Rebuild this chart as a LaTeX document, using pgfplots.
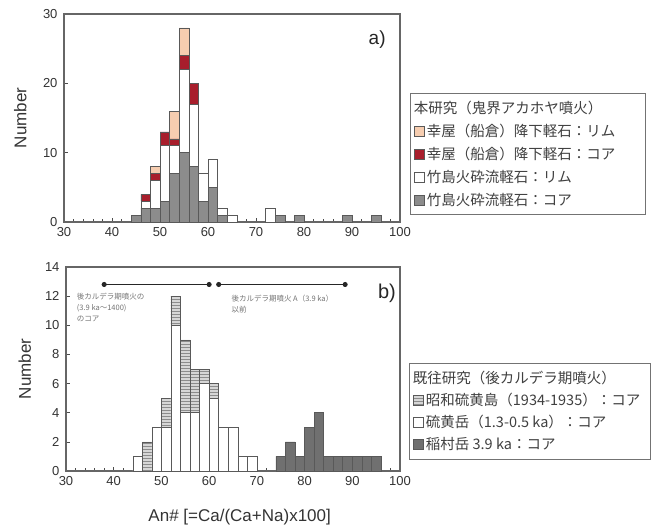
\documentclass[border=0pt]{standalone}
\usepackage{pgfplots}
\usepackage{pgfplotstable}
\pgfplotsset{compat=1.18}
\usetikzlibrary{patterns}
\usepackage{fontspec}
\setmainfont{Liberation Sans}
\newfontfamily\jp{Noto Sans CJK JP}

\definecolor{rimpeach}{HTML}{F6CDB0}
\definecolor{corered}{HTML}{A81E2C}
\definecolor{coregray}{HTML}{8C8C8C}
\definecolor{inadark}{HTML}{707070}
\definecolor{showagray}{HTML}{D6D6D6}

% a) this study: core (gray), rim (white) of Takeshima pumice; core (red), rim (peach) of Koya pumice
\pgfplotstableread{
x  gc wr rc rr
31 0  0  0  0
33 0  0  0  0
35 0  0  0  0
37 0  0  0  0
39 0  0  0  0
41 0  0  0  0
43 0  0  0  0
45 1  0  0  0
47 2  1  1  0
49 2  4  1  1
51 3  8  2  0
53 7  4  1  4
55 10 12 2  4
57 8  9  3  0
59 3  4  0  0
61 5  4  0  0
63 1  1  0  0
65 0  1  0  0
67 0  0  0  0
69 0  0  0  0
71 0  0  0  0
73 0  2  0  0
75 1  0  0  0
77 0  0  0  0
79 1  0  0  0
81 0  0  0  0
83 0  0  0  0
85 0  0  0  0
87 0  0  0  0
89 1  0  0  0
91 0  0  0  0
93 0  0  0  0
95 1  0  0  0
97 0  0  0  0
}\tabA

% b) previous studies: Iodake (white), Showa-Iwojima (hatched), Inamuradake (dark)
\pgfplotstableread{
x  wh lt dk
31 0  0  0
33 0  0  0
35 0  0  0
37 0  0  0
39 0  0  0
41 0  0  0
43 0  0  0
45 1  0  0
47 0  2  0
49 3  0  0
51 3  2  0
53 10 2  0
55 4  5  0
57 4  3  0
59 6  1  0
61 5  1  0
63 3  0  0
65 3  0  0
67 1  0  0
69 1  0  0
71 0  0  0
73 0  0  0
75 0  0  1
77 0  0  2
79 0  0  1
81 0  0  3
83 0  0  4
85 0  0  1
87 0  0  1
89 0  0  1
91 0  0  1
93 0  0  1
95 0  0  1
97 0  0  0
}\tabB

\pgfplotsset{
  histo/.style={
    scale only axis,
    anchor=south west,
    xmin=30, xmax=100,
    xtick={30,40,...,100},
    minor x tick num=4,
    tick align=inside,
    tick pos=left,
    major tick length=4pt,
    minor tick length=3pt,
    axis line style={black!60, line width=1.2pt},
    every tick/.style={black!70, line width=0.6pt},
    ybar stacked,
    bar width=2,
    /pgf/number format/assume math mode=true,
    tick label style={font=\fontsize{13}{13}\selectfont, text=black!80},
    xticklabel style={yshift=-2pt},
    yticklabel style={xshift=-3pt},
    legend cell align=left,
    legend image code/.code={\draw[#1, draw=black!65, line width=0.5pt] (0pt,-5pt) rectangle (10pt,5pt);},
  },
  barline/.style={draw=black!65, line width=0.5pt},
}

\begin{document}
\begin{tikzpicture}
\useasboundingbox (0pt,0pt) rectangle (656pt,-528pt);

% ---------- a) ----------
\begin{axis}[histo,
  at={(64pt,-222pt)}, width=336pt, height=208pt,
  ymin=0, ymax=30, ytick={0,10,20,30},
  ylabel={Number},
  every axis y label/.style={at={(axis description cs:-0.13,0.5)}, rotate=90, anchor=center,
    font=\fontsize{17}{17}\selectfont, text=black!80},
  legend style={at={(1.03,0.62)}, anchor=north west, draw=black!55, line width=0.8pt,
    font=\jp\fontsize{14.5}{14.5}\selectfont, text=black!75, row sep=5pt,
    inner xsep=4pt, inner ysep=6pt},
]
\addplot[barline, fill=coregray, forget plot] table[x=x, y=gc] {\tabA};
\addplot[barline, fill=white, forget plot] table[x=x, y=wr] {\tabA};
\addplot[barline, fill=corered, forget plot] table[x=x, y=rc] {\tabA};
\addplot[barline, fill=rimpeach, forget plot] table[x=x, y=rr] {\tabA};

\addlegendimage{empty legend}
\addlegendentry{\hspace*{-13pt}本研究（鬼界アカホヤ噴火）\rule[-4pt]{0pt}{4pt}}
\addlegendimage{fill=rimpeach}
\addlegendentry{\makebox[212pt][l]{幸屋（船倉）降下軽石：リム}}
\addlegendimage{fill=corered}
\addlegendentry{幸屋（船倉）降下軽石：コア}
\addlegendimage{fill=white}
\addlegendentry{竹島火砕流軽石：リム}
\addlegendimage{fill=coregray}
\addlegendentry{竹島火砕流軽石：コア}

\node[font=\fontsize{19}{19}\selectfont, text=black!85] at (rel axis cs:0.932,0.875) {a)};
\end{axis}

% ---------- b) ----------
\begin{axis}[histo,
  at={(66pt,-471pt)}, width=334pt, height=204pt,
  ymin=0, ymax=14, ytick={0,2,...,14},
  ylabel={Number},
  xlabel={An\# [=Ca/(Ca+Na)x100]},
  every axis y label/.style={at={(axis description cs:-0.123,0.5)}, rotate=90, anchor=center,
    font=\fontsize{17}{17}\selectfont, text=black!80},
  every axis x label/.style={at={(axis description cs:0.52,-0.225)}, anchor=center,
    font=\fontsize{17}{17}\selectfont, text=black!80},
  legend style={at={(1.027,0.529)}, anchor=north west, draw=black!55, line width=0.8pt,
    font=\jp\fontsize{14.5}{14.5}\selectfont, text=black!75, row sep=4pt,
    inner xsep=4pt, inner ysep=6pt},
]
\addplot[barline, fill=white, forget plot] table[x=x, y=wh] {\tabB};
\addplot[barline, fill=showagray, postaction={pattern=horizontal lines, pattern color=black!45}, forget plot] table[x=x, y=lt] {\tabB};
\addplot[barline, fill=inadark, forget plot] table[x=x, y=dk] {\tabB};

\addlegendimage{empty legend}
\addlegendentry{\hspace*{-13pt}既往研究（後カルデラ期噴火）\rule[-9pt]{0pt}{9pt}}
\addlegendimage{fill=showagray, postaction={pattern=horizontal lines, pattern color=black!45}}
\addlegendentry{\makebox[218pt][l]{昭和硫黄島（1934-1935）：コア}}
\addlegendimage{fill=white}
\addlegendentry{硫黄岳（1.3-0.5 ka）：コア}
\addlegendimage{fill=inadark}
\addlegendentry{稲村岳 3.9 ka：コア}

\node[font=\fontsize{20}{20}\selectfont, text=black!85] at (rel axis cs:0.961,0.873) {b)};
\end{axis}

% eruption-period ranges drawn over panel b)
\begin{axis}[
  at={(66pt,-471pt)}, anchor=south west, scale only axis, width=334pt, height=204pt,
  xmin=30, xmax=100, ymin=0, ymax=14, hide axis,
]
\addplot[black!85, line width=1pt, mark=*, mark size=2pt] coordinates {(38,12.8) (60,12.8)};
\addplot[black!85, line width=1pt, mark=*, mark size=2pt] coordinates {(62,12.8) (88.5,12.8)};
\node[anchor=north west, align=left, font=\jp\fontsize{7.5}{11}\selectfont, text=black!55]
  at (rel axis cs:0.022,0.89) {後カルデラ期噴火の\\(3.9 ka〜1400)\\のコア};
\node[anchor=north west, align=left, font=\jp\fontsize{7.5}{11}\selectfont, text=black!55]
  at (rel axis cs:0.485,0.88) {後カルデラ期噴火 A（3.9 ka）\\以前};
\end{axis}
\end{tikzpicture}
\end{document}
